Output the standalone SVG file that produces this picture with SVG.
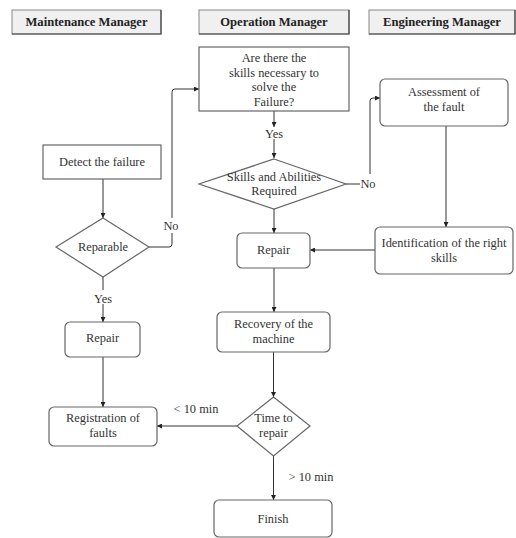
<svg xmlns="http://www.w3.org/2000/svg" width="516" height="538" viewBox="0 0 516 538">
<defs>
<marker id="arr" viewBox="0 0 10 10" refX="10" refY="5" markerWidth="5" markerHeight="5" orient="auto" markerUnits="userSpaceOnUse"><path d="M0,0 L10,5 L0,10 z" fill="#222"/></marker>
</defs>
<style>
text{font-family:"Liberation Serif","Times New Roman",serif;font-size:12.4px;fill:#333;text-anchor:middle}
.h{font-weight:bold;fill:#222;font-size:12.6px}
.hdr{fill:#f0f0f0;stroke:#888;stroke-width:1}
.sh{fill:none;stroke:#444;stroke-width:1.2}
.box{fill:#fff;stroke:#666;stroke-width:1.2}
.c{fill:none;stroke:#333;stroke-width:1;marker-end:url(#arr)}
.cn{fill:none;stroke:#333;stroke-width:1}
</style>
<rect width="516" height="538" fill="#fff"/>
<g id="hdr-maint"><rect class="hdr" x="12" y="10" width="149" height="24"/><path class="sh" d="M161,10 V34 H12"/><text class="h" x="86.5" y="26">Maintenance Manager</text></g>
<g id="hdr-op"><rect class="hdr" x="199" y="10" width="150" height="24"/><path class="sh" d="M349,10 V34 H199"/><text class="h" x="274" y="26">Operation Manager</text></g>
<g id="hdr-eng"><rect class="hdr" x="369" y="10" width="146" height="24"/><path class="sh" d="M515,10 V34 H369"/><text class="h" x="442" y="26">Engineering Manager</text></g>

<g id="connectors">
<path class="c" d="M274,111 V127"/>
<path class="c" d="M274,139 V158"/>
<path class="cn" d="M346,184 H360"/>
<path class="c" d="M370,174 V101 Q370,98 373,98 H380"/>
<path class="c" d="M446,126 V227"/>
<path class="c" d="M375,250 H310"/>
<path class="c" d="M274,209 V233"/>
<path class="c" d="M274,268 V312"/>
<path class="c" d="M273.5,352 V397"/>
<path class="c" d="M237,426 H157"/>
<path class="c" d="M273.5,456 V500"/>
<path class="c" d="M103,179 V218"/>
<path class="cn" d="M149,247 H169 Q172,247 172,244 V233"/>
<path class="c" d="M172,218 V92 Q172,89 175,89 H199"/>
<path class="cn" d="M103,277 V290"/>
<path class="c" d="M103,304 V322"/>
<path class="c" d="M103,357 V407"/>
</g>
<g id="labels">
<text x="171" y="230">No</text>
<text x="103" y="303">Yes</text>
<text x="274" y="138">Yes</text>
<text x="368" y="188">No</text>
<text x="196" y="413">&lt; 10 min</text>
<text x="311" y="481">&gt; 10 min</text>
</g>

<g id="q-skills"><rect class="box" x="199" y="47" width="150" height="64"/>
<text x="274" y="62">Are there the</text><text x="274" y="77">skills necessary to</text><text x="274" y="91">solve the</text><text x="274" y="106">Failure?</text></g>
<g id="assessment"><rect class="box" x="380" y="79" width="128" height="47" rx="5"/>
<text x="444" y="96">Assessment of</text><text x="444" y="111">the fault</text></g>
<g id="skills-req"><polygon class="box" points="274,159 346,184 274,209 199,184"/>
<text x="274" y="181">Skills and Abilities</text><text x="274" y="195">Required</text></g>
<g id="detect"><rect class="box" x="43" y="145" width="118" height="34"/><text x="102" y="166">Detect the failure</text></g>
<g id="reparable"><polygon class="box" points="103,218 149,247 103,277 56,247"/><text x="103" y="251">Reparable</text></g>
<g id="repair-mid"><rect class="box" x="237" y="233" width="73" height="35" rx="5"/><text x="273.5" y="254">Repair</text></g>
<g id="identification"><rect class="box" x="375" y="227" width="138" height="47" rx="5"/>
<text x="444" y="247">Identification of the right</text><text x="444" y="262">skills</text></g>
<g id="recovery"><rect class="box" x="217" y="312" width="113" height="40" rx="5"/>
<text x="273.5" y="328">Recovery of the</text><text x="273.5" y="343">machine</text></g>
<g id="repair-left"><rect class="box" x="65" y="322" width="75" height="35" rx="5"/><text x="102.5" y="342">Repair</text></g>
<g id="registration"><rect class="box" x="49" y="407" width="108" height="39" rx="5"/>
<text x="103" y="422">Registration of</text><text x="103" y="437">faults</text></g>
<g id="time"><polygon class="box" points="273.5,397 310,426 273.5,456 237,426"/>
<text x="273.5" y="422">Time to</text><text x="273.5" y="437">repair</text></g>
<g id="finish"><rect class="box" x="214" y="500" width="118" height="37" rx="5"/><text x="273" y="523">Finish</text></g>
</svg>
